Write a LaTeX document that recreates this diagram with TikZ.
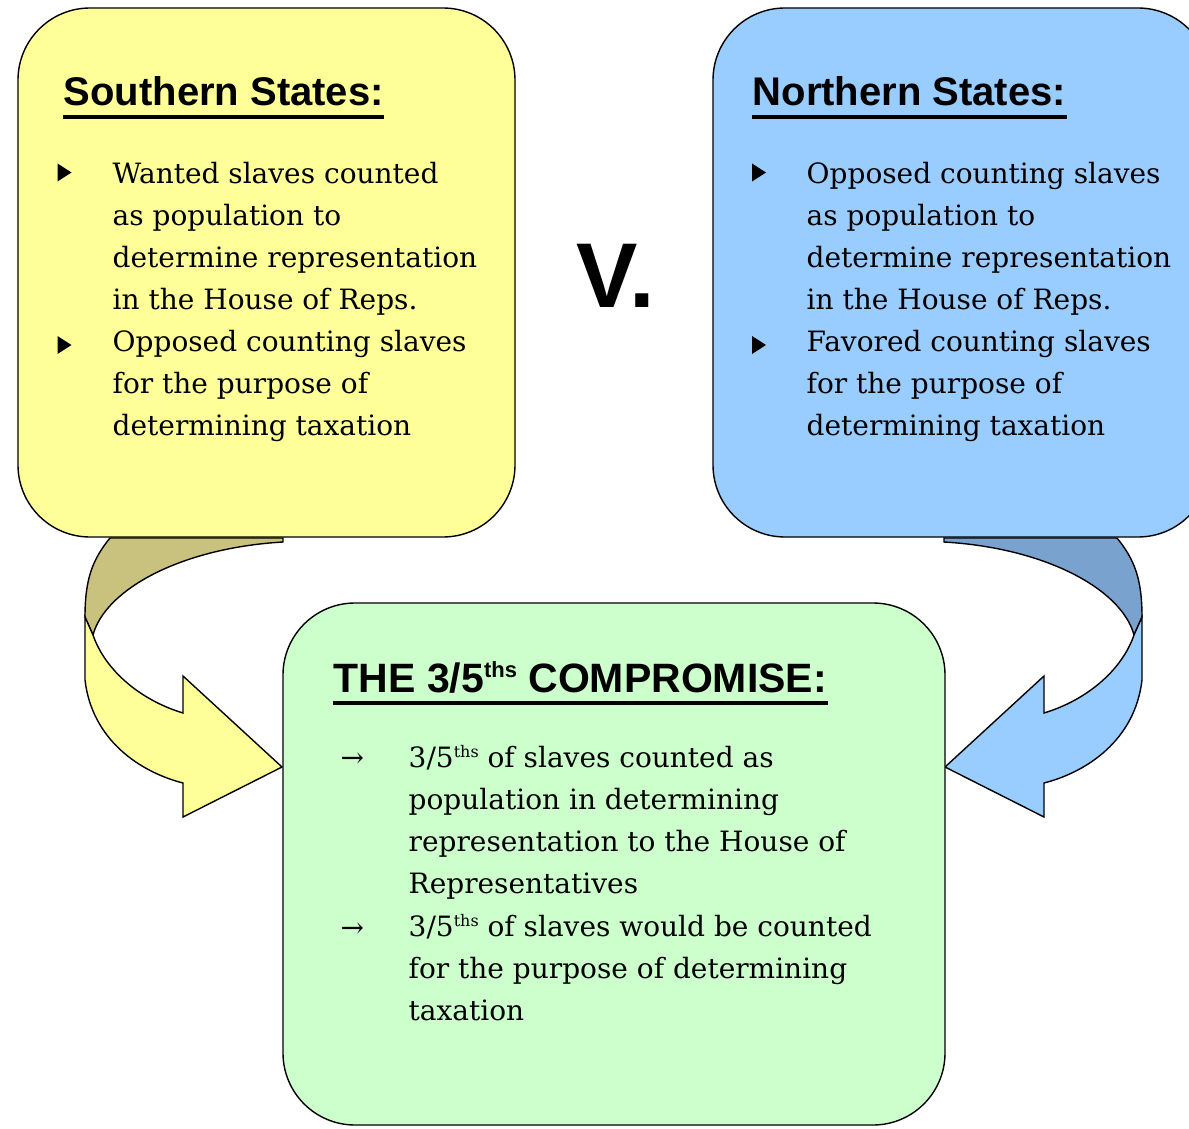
\documentclass[tikz,border=0pt]{standalone}
\usepackage{fontspec}
\setmainfont{DejaVu Serif}
\newfontfamily\headfont{Liberation Sans}

\definecolor{southfill}{HTML}{FFFF99}
\definecolor{southback}{HTML}{C9C27E}
\definecolor{northfill}{HTML}{99CCFF}
\definecolor{northback}{HTML}{7AA2CF}
\definecolor{dealfill}{HTML}{CCFFCC}

\tikzset{
  box/.style = {draw = black, rounded corners = 36pt, inner sep = 0pt},
  heading/.style = {font = \headfont\bfseries\fontsize{20}{24}\selectfont, anchor = base west, inner sep = 0pt},
  body/.style = {font = \fontsize{14}{21}\selectfont, align = left, anchor = base west, inner sep = 0pt}
}

% twisted ribbon arrow: back face, front face
\newcommand{\ribbon}[2]{
  \filldraw[fill = #1] (110,538) -- (283,538) -- (283,542) .. controls (180,548) and (105,590) .. (93,635) -- (85,617) .. controls (85,580) and (92,560) .. (110,538) -- cycle;
  \filldraw[fill = #2] (85,617) -- (85,680) .. controls (92,740) and (140,772) .. (183,783) -- (183,817) -- (282,767) -- (183,676) -- (183,713) .. controls (140,700) and (105,670) .. (93,635) -- cycle;
}
\newcommand{\tri}[2]{\fill (#1 - 7, #2 - 9) -- (#1 + 7, #2) -- (#1 - 7, #2 + 9) -- cycle;}
\newcommand{\ths}[2]{\raisebox{#1}{\fontsize{#2}{#2}\selectfont ths}}

\begin{document}
\begin{tikzpicture}[x = 0.5pt, y = -0.5pt, line width = 0.7pt]
  \useasboundingbox (0,0) rectangle (1189,1129);

  \ribbon{southback}{southfill}
  \begin{scope}[shift = {(1227,0)}, xscale = -1]
    \ribbon{northback}{northfill}
  \end{scope}

  \node (south) [box, fill = southfill, minimum width = 248.5pt, minimum height = 264.5pt] at (266.5,272.5) {};
  \node (north) [box, fill = northfill, minimum width = 248.5pt, minimum height = 264.5pt] at (961.5,272.5) {};
  \node (deal) [box, fill = dealfill, minimum width = 331pt, minimum height = 261pt] at (614,864) {};

  \node (southhead) [heading] at (63,106) {Southern States:};
  \node (northhead) [heading] at (752,106) {Northern States:};
  \node (dealhead) [heading, font = \headfont\bfseries\fontsize{20.5}{24}\selectfont] at (333,692) {THE 3/5\ths{7.5pt}{11} COMPROMISE:};
  \draw[line width = 2pt] ([yshift = -5.5pt] southhead.base west) -- ([yshift = -5.5pt] southhead.base east);
  \draw[line width = 2pt] ([yshift = -5.5pt] northhead.base west) -- ([yshift = -5.5pt] northhead.base east);
  \draw[line width = 2pt] ([yshift = -5.5pt] dealhead.base west) -- ([yshift = -5.5pt] dealhead.base east);

  \node (versus) [anchor = base west, inner sep = 0pt, font = \headfont\bfseries\fontsize{46}{50}\selectfont] at (576,307) {V.};

  % base anchor of a block sits on its last line
  \tri{64.5}{172.5}
  \tri{64.5}{345}
  \node (south1) [body] at (112,309) {Wanted slaves counted\\as population to\\determine representation\\in the House of Reps.};
  \node (south2) [body] at (112,435) {Opposed counting slaves\\for the purpose of\\determining taxation};

  \tri{759}{172.5}
  \tri{759}{345}
  \node (north1) [body] at (806,309) {Opposed counting slaves\\as population to\\determine representation\\in the House of Reps.};
  \node (north2) [body] at (806,435) {Favored counting slaves\\for the purpose of\\determining taxation};

  \node (arrow1) [body] at (340,767) {→};
  \node (arrow2) [body] at (340,937) {→};
  \node (deal1) [body] at (408,893) {3/5\ths{5pt}{8} of slaves counted as\\population in determining\\representation to the House of\\Representatives};
  \node (deal2) [body] at (408,1020) {3/5\ths{5pt}{8} of slaves would be counted\\for the purpose of determining\\taxation};
\end{tikzpicture}
\end{document}
